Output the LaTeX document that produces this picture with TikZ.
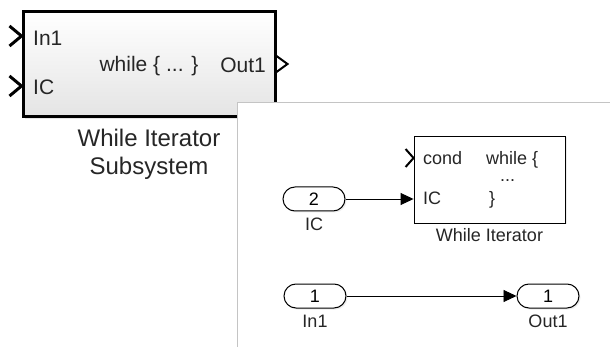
\documentclass[tikz,border=0pt]{standalone}
\usepackage{fontspec}
\setmainfont{Liberation Sans}
\usetikzlibrary{arrows.meta, positioning, calc, shadows, shapes.misc}
\definecolor{blockgray}{HTML}{E4E4E4}
\definecolor{panelline}{HTML}{C4C4C4}
\definecolor{inktext}{HTML}{262626}

\begin{document}
\begin{tikzpicture}[x=1pt, y=-1pt,
  sysblock/.style={draw=black, line width=3pt, top color=white, bottom color=blockgray,
    minimum width=252pt, minimum height=105pt, inner sep=0pt,
    drop shadow={opacity=0.2, shadow xshift=2pt, shadow yshift=-2pt}},
  iterblock/.style={draw=black, line width=0.9pt, fill=white,
    minimum width=151pt, minimum height=87pt, inner sep=0pt,
    drop shadow={opacity=0.15, shadow xshift=1.5pt, shadow yshift=-1.5pt}},
  portpill/.style={rounded rectangle, draw=black, line width=1pt, fill=white,
    minimum width=62pt, minimum height=24pt, inner sep=0pt, font=\fontsize{18}{20}\selectfont,
    drop shadow={opacity=0.15, shadow xshift=1.5pt, shadow yshift=-1.5pt}},
  bigtxt/.style={font=\fontsize{21}{24}\selectfont, text=inktext, inner sep=0pt},
  smalltxt/.style={font=\fontsize{18}{20}\selectfont, text=inktext, inner sep=0pt},
  chevron/.style={black, line width=3pt, line join=miter},
  wire/.style={-{Triangle[length=13pt, width=12pt]}, line width=0.9pt},
]

% Frame
\useasboundingbox (0,0) rectangle (610,347);
\fill[white] (0,0) rectangle (610,347);

% While Iterator Subsystem block
\node[sysblock] (sub) at (149,64.5) {};
\node[bigtxt, anchor=west] (subin1) at (33,38) {In1};
\node[bigtxt, anchor=west] (subic) at (33,87) {IC};
\node[bigtxt] (subbody) at (149,66) {while \{ ... \}};
\node[bigtxt, anchor=east] (subout1) at (266,65) {Out1};
\coordinate (pin1) at (sub.west |- 0,36);
\coordinate (pic) at (sub.west |- 0,86);
\coordinate (pout1) at (sub.east |- 0,64);
\draw[chevron] ($(pin1)+(-12,-10)$) -- (pin1) -- ($(pin1)+(-12,10)$);
\draw[chevron] ($(pic)+(-12,-10)$) -- (pic) -- ($(pic)+(-12,10)$);
\draw[black, line width=2pt, line join=miter] ($(pout1)+(0,-8)$) -- ($(pout1)+(11,0)$) -- ($(pout1)+(0,8)$);
\node[font=\fontsize{24}{28}\selectfont, text=inktext, align=center] (sublbl) at (149,154) {While Iterator\\Subsystem};

% Contents window
\fill[white] (237,103) rectangle (610,347);
\draw[panelline, line width=1pt] (237,347) -- (237,103) -- (610,103);

% While Iterator block
\node[iterblock] (iter) at (489.5,179.5) {};
\node[smalltxt, anchor=west] (itcond) at (423,158) {cond};
\node[smalltxt, anchor=west] (itic) at (423,198) {IC};
\node[smalltxt, anchor=west] (itwhile) at (486,160) {while \{};
\node[smalltxt, anchor=west] (itdots) at (500,181) {...};
\node[smalltxt, anchor=west] (itclose) at (489,200) {\}};
\node[smalltxt, below=5pt] (iterlbl) at (iter.south) {While Iterator};
\coordinate (pcond) at (iter.west |- itcond);
\coordinate (picin) at (iter.west |- 0,199);
\draw[black, line width=2pt, line join=miter] ($(pcond)+(-8,-9)$) -- (pcond) -- ($(pcond)+(-8,9)$);

% Ports
\node[portpill] (icport) at (314,199) {2};
\node[smalltxt, below=6pt] (iclbl) at (icport.south) {IC};
\node[portpill] (in1port) at (315,296) {1};
\node[smalltxt, below=6pt] (in1lbl) at (in1port.south) {In1};
\node[portpill] (out1port) at (548,296) {1};
\node[smalltxt, below=6pt] (out1lbl) at (out1port.south) {Out1};

% Signals
\draw[wire] (icport.east) -- (picin);
\draw[wire] (in1port.east) -- (out1port.west);

\end{tikzpicture}
\end{document}
